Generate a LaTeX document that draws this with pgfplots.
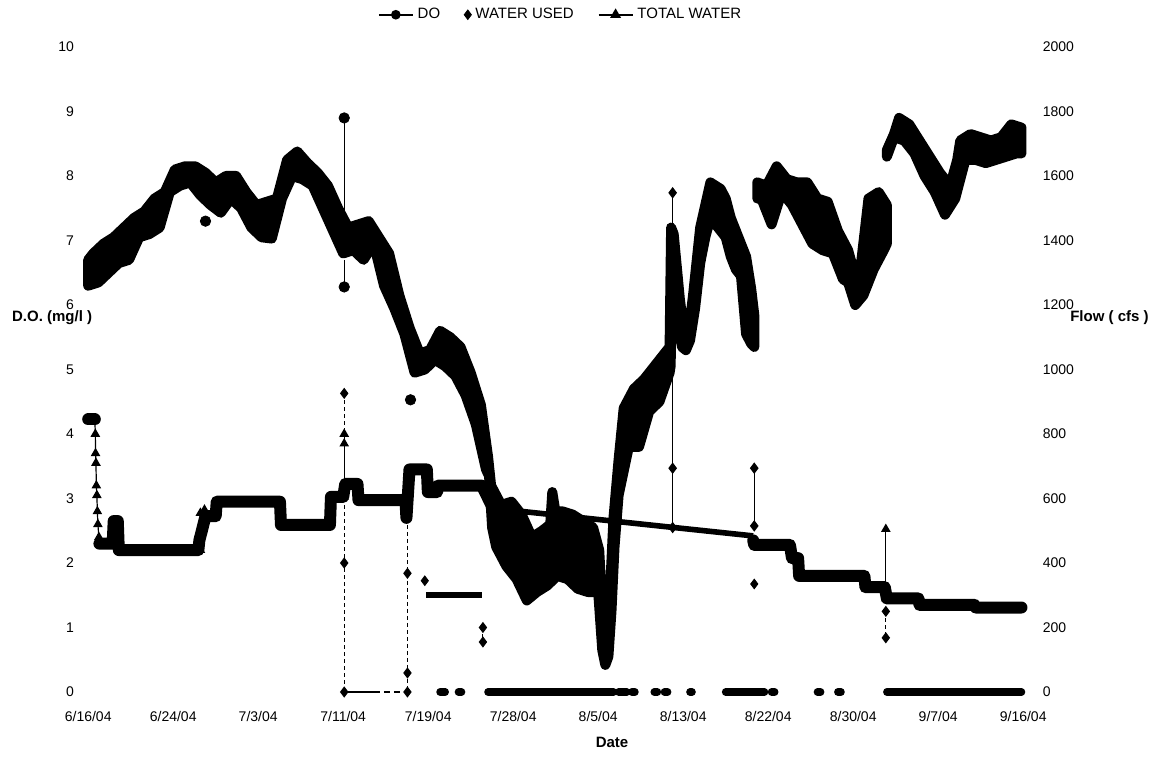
\documentclass[border=0pt]{standalone}
\usepackage{pgfplots}
\pgfplotsset{compat=1.18}
\usepackage{fontspec}
\setmainfont{Liberation Sans}
\begin{document}
\begin{tikzpicture}
\pgfplotsset{
  common/.style={
    scale only axis, width=476.85pt, height=322.5pt,
    at={(0,0)}, anchor=south west,
    xmin=-1, xmax=92.5,
    axis line style={draw=none},
    major tick length=0pt,
    clip=false,
    tick label style={font=\fontsize{7}{8}\selectfont},
    /pgf/number format/assume math mode=true,
  },
  doband/.style={black, fill=black, line width=5pt, line join=round, no marks, forget plot},
  band/.style={black, line width=6pt, line join=round, line cap=round, no marks, forget plot},
  zband/.style={black, line width=3.8pt, line cap=round, no marks, forget plot},
  spikeT/.style={black, line width=0.6pt, mark=triangle*, mark size=2.2pt, forget plot},
  spikeW/.style={black, line width=0.5pt, dash pattern=on 2pt off 1.5pt, mark=diamond*, mark size=2.4pt, mark options={solid}, forget plot},
}
% ---------------- left axis: DO (daily maximum then daily minimum, as a band) ----------------
\begin{axis}[common,
  ymin=0, ymax=10, ytick={0,1,...,10},
  yticklabel style={xshift=1.5pt},
  xtick={0,8.333,16.667,25,33.333,41.667,50,58.333,66.667,75,83.333,91.667},
  xticklabels={6/16/04,6/24/04,7/3/04,7/11/04,7/19/04,7/28/04,8/5/04,8/13/04,8/22/04,8/30/04,9/7/04,9/16/04},
  xticklabel style={yshift=-6pt},
]
\addplot[doband] coordinates {
(0,6.7)(0.5,6.8)(1.5,6.95)(2.5,7.05)(3.5,7.2)(4.5,7.35)(5.5,7.45)(6.5,7.65)(7.5,7.75)(8.5,8.1)
(9.5,8.15)(10.5,8.15)(11.5,8.05)(12.5,7.9)(13.5,8.0)(14.5,8.0)(15.5,7.75)(16.5,7.55)(17.5,7.6)(18.5,7.65)
(19.5,8.25)(20.5,8.38)(21.5,8.2)(22.5,8.05)(23.5,7.85)(24.5,7.5)(25.5,7.2)(26.5,7.25)(27.5,7.3)(28.5,7.05)
(29.5,6.8)(30.5,6.15)(31.5,5.65)(32.5,5.25)(33.5,5.3)(34.5,5.6)(35.5,5.5)(36.5,5.35)(37.5,4.95)(38.5,4.45)
(39.2,3.65)(39.5,3.2)(40.5,2.9)(41.5,2.95)(42.5,2.75)(43.5,2.4)(44.5,2.5)(45.3,2.6)(45.5,3.1)(45.8,2.8)
(46.5,2.8)(47.5,2.75)(48.5,2.65)(49.5,2.55)(50.1,2.2)(50.5,1.0)(50.8,0.7)(51.2,1.7)(51.5,2.7)(52.0,3.6)
(52.5,4.4)(53.5,4.7)(54.5,4.85)(55.5,5.05)(56.5,5.25)(57.0,5.35)(57.15,7.2)(57.4,7.1)(58.0,6.1)(58.4,5.6)
(58.8,5.5)(59.3,6.15)(60,7.2)(60.5,7.55)(61,7.9)(61.5,7.85)(62,7.8)(62.5,7.65)(63,7.35)(63.5,7.15)
(64,6.95)(64.5,6.75)(65,6.25)(65.3,5.85)
(65.3,5.35)(65,5.4)(64.5,5.55)(64,6.45)(63.5,6.55)(63,6.75)(62.5,7.05)(62,7.15)(61.5,7.25)(61,7.35)
(60.5,7.05)(60,6.65)(59.5,5.95)(59.0,5.45)(58.6,5.3)(58.2,5.35)(57.6,6.35)(57.3,6.85)(57.1,5.05)(57,4.95)
(56,4.5)(55,4.35)(54,3.8)(53,3.8)(52,3.05)(51.6,2.25)(51.3,1.25)(51.0,0.55)(50.7,0.42)(50.4,0.65)
(50,1.55)(49,1.55)(48,1.6)(47,1.75)(46,1.8)(45,1.65)(44,1.55)(43,1.42)(42,1.75)(41,1.95)
(40,2.25)(39.6,2.55)(39.3,3.35)(39,3.45)(38,4.15)(37,4.6)(36,4.9)(35,5.05)(34,5.15)(33,5.0)
(32,4.95)(31,5.55)(30,5.95)(29,6.3)(28,6.95)(27,6.7)(26,6.85)(25,6.8)(24,7.15)(23,7.5)
(22,7.85)(21,7.95)(20,8.0)(19,7.65)(18,7.03)(17,7.05)(16,7.2)(15,7.5)(14,7.65)(13,7.43)
(12,7.55)(11,7.7)(10,7.9)(9,7.85)(8,7.75)(7,7.2)(6,7.1)(5,7.05)(4,6.7)(3,6.65)
(2,6.5)(1,6.35)(0,6.3)
} -- cycle;
\addplot[doband] coordinates {
(65.6,7.9)(66.5,7.85)(67.5,8.15)(68.5,7.95)(69.5,7.9)(70.5,7.9)(71.5,7.65)(72.5,7.6)(73.5,7.15)(74.5,6.85)
(75.2,6.45)(75.7,6.55)(76.5,7.65)(77.5,7.75)(78.3,7.55)
(78.3,6.95)(78,6.85)(77,6.55)(76,6.15)(75.2,6.0)(74.5,6.35)(74,6.4)(73,6.8)(72,6.85)(71,6.95)
(70,7.25)(69,7.55)(68,7.75)(67,7.25)(66,7.65)(65.6,7.65)
} -- cycle;
\addplot[doband] coordinates {
(78.3,8.4)(79,8.65)(79.5,8.9)(80.5,8.8)(81.5,8.55)(82.5,8.3)(83.5,8.05)(84.5,7.85)(85.2,8.25)(85.5,8.55)
(86.5,8.65)(87.5,8.6)(88.5,8.55)(89.5,8.6)(90.5,8.8)(91.5,8.75)
(91.5,8.35)(91,8.35)(90,8.3)(89,8.25)(88,8.2)(87,8.25)(86,8.25)(85,7.65)(84,7.4)(83,7.75)
(82,8.0)(81,8.35)(80,8.55)(79,8.6)(78.3,8.3)
} -- cycle;
\addplot[black, only marks, mark=*, mark size=2.6pt, forget plot] coordinates {(11.5,7.3)(25.1,8.9)(25.1,6.28)(31.6,4.53)(39.1,3.55)};
\addplot[black, line width=0.6pt, forget plot] coordinates {(25.1,7.2)(25.1,8.9)};
\addplot[black, line width=0.6pt, forget plot] coordinates {(25.1,6.7)(25.1,6.28)};
\end{axis}
% ---------------- right axis: flows ----------------
\begin{axis}[common,
  ymin=0, ymax=2000, ytick={0,200,...,2000},
  axis y line*=right, axis x line=none,
  yticklabel style={/pgf/number format/1000 sep={}, xshift=2pt},
  legend style={draw=none, fill=none, at={(0.507,1.05)}, anchor=center,
    font=\fontsize{7.5}{9}\selectfont,
    /tikz/every even column/.append style={column sep=10pt}},
  legend columns=3, legend cell align=left,
]
\addlegendimage{black, mark=*, mark size=2pt, line width=0.8pt}
\addlegendentry{DO}
\addlegendimage{black, only marks, mark=diamond*, mark size=2.4pt}
\addlegendentry{WATER USED}
\addlegendimage{black, mark=triangle*, mark size=2.4pt, line width=0.8pt}
\addlegendentry{TOTAL WATER}
% TOTAL WATER
\addplot[band] coordinates {(0,845)(0.65,845)};
\addplot[spikeT] coordinates {(0.65,845)(0.7,800)(0.72,740)(0.76,710)(0.8,640)(0.85,610)(0.9,560)(0.95,520)(1.05,480)(1.1,460)};
\addplot[band] coordinates {
(1.1,460)(2.4,460)(2.5,530)(2.9,530)(3.0,440)(10.8,440)(10.9,470)(11.5,545)(12.5,545)(12.6,590)
(18.8,590)(18.9,518)(23.7,518)(23.8,605)(25.0,605)(25.2,645)(26.4,645)(26.5,595)(31.1,595)(31.2,540)
(31.5,690)(33.2,690)(33.3,620)(34.2,620)(34.3,640)(38.6,640)(39.6,575)(41,570)
};
\addplot[black, line width=2.8pt, forget plot] coordinates {(41,565)(65.2,484)};
\addplot[band] coordinates {
(65.2,470)(65.3,456)(68.8,456)(69.0,415)(69.6,415)(69.7,360)(76.1,360)(76.2,325)(78.1,325)(78.3,290)
(81.4,290)(81.5,270)(86.9,270)(87,262)(91.5,262)
};
\addplot[spikeT] coordinates {(11.0,440)(11.0,555)};
\addplot[spikeT] coordinates {(11.4,545)(11.4,565)};
\addplot[spikeT] coordinates {(25.1,605)(25.1,770)(25.1,800)};
\addplot[spikeT] coordinates {(78.2,290)(78.2,505)};
% WATER USED
\addplot[black, line width=0.8pt, forget plot] coordinates {(25.1,0)(28.0,0)};
\addplot[black, line width=0.8pt, dash pattern=on 3pt off 2pt, forget plot] coordinates {(28.0,0)(31.3,0)};
\addplot[spikeW] coordinates {(25.1,926)(25.1,400)(25.1,0)};
\addplot[spikeW] coordinates {(31.3,540)(31.3,368)(31.3,59)(31.3,0)};
\addplot[black, line width=3pt, forget plot] coordinates {(33.1,300)(38.6,300)};
\addplot[black, only marks, mark=diamond*, mark size=2.4pt, forget plot] coordinates {(33.0,345)};
\addplot[spikeW] coordinates {(38.7,200)(38.7,155)};
\addplot[zband] coordinates {(34.5,0)(35,0)};
\addplot[zband] coordinates {(36.3,0)(36.6,0)};
\addplot[zband] coordinates {(39.2,0)(51.5,0)};
\addplot[zband] coordinates {(52,0)(52.8,0)};
\addplot[zband] coordinates {(53.3,0)(53.6,0)};
\addplot[zband] coordinates {(55.5,0)(55.8,0)};
\addplot[zband] coordinates {(56.5,0)(56.8,0)};
\addplot[zband] coordinates {(59,0)(59.2,0)};
\addplot[black, line width=0.6pt, mark=diamond*, mark size=2.4pt, forget plot] coordinates {(57.3,1548)(57.3,694)(57.3,510)};
\addplot[zband] coordinates {(62.5,0)(66.3,0)};
\addplot[black, line width=0.6pt, mark=diamond*, mark size=2.4pt, forget plot] coordinates {(65.3,694)(65.3,515)};
\addplot[black, only marks, mark=diamond*, mark size=2.4pt, forget plot] coordinates {(65.3,335)};
\addplot[zband] coordinates {(67,0)(67.3,0)};
\addplot[zband] coordinates {(71.5,0)(71.8,0)};
\addplot[zband] coordinates {(73.5,0)(73.8,0)};
\addplot[spikeW] coordinates {(78.2,250)(78.2,168)};
\addplot[zband] coordinates {(78.3,0)(91.5,0)};
% axis titles
\node[font=\bfseries\fontsize{7.5}{9}\selectfont, anchor=west] at (rel axis cs:-0.0765,0.58) {D.O. (mg/l )};
\node[font=\bfseries\fontsize{7.5}{9}\selectfont, anchor=east] at (rel axis cs:1.130,0.58) {Flow ( cfs )};
\node[font=\bfseries\fontsize{7.5}{9}\selectfont] at (rel axis cs:0.56,-0.0775) {Date};
\end{axis}
\pgfresetboundingbox
\path (-39pt,-34pt) rectangle (540pt,346pt);
\end{tikzpicture}
\end{document}
